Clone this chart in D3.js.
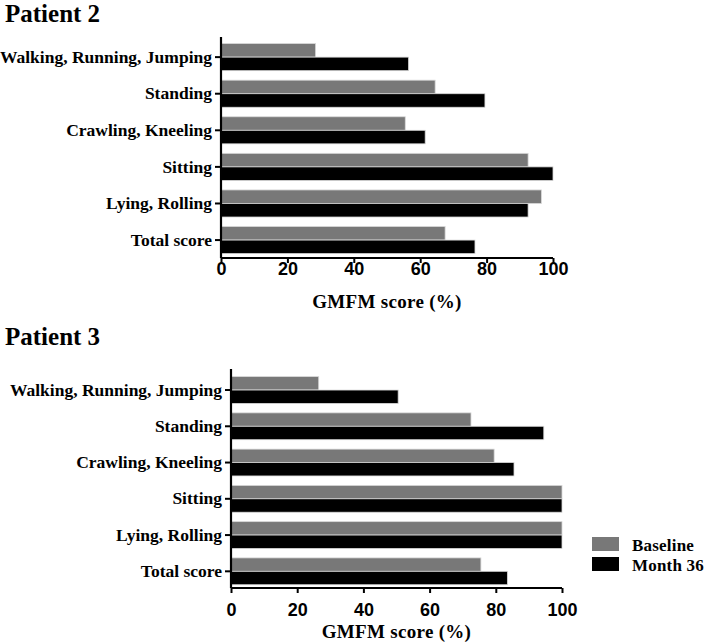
<!DOCTYPE html>
<html>
<head>
<meta charset="utf-8">
<script src="https://cdn.jsdelivr.net/npm/d3@7"></script>
<style>
  html, body { margin: 0; padding: 0; background: #fff; }
  svg { display: block; }
</style>
</head>
<body>
<svg id="chart" width="709" height="644"></svg>
<script>
const categories = ["Walking, Running, Jumping", "Standing", "Crawling, Kneeling", "Sitting", "Lying, Rolling", "Total score"];
const seriesNames = ["Baseline", "Month 36"];
const patient2Baseline = [28.5, 64.5, 55.5, 92.5, 96.5, 67.5];
const patient2Month36 = [56.5, 79.5, 61.5, 100, 92.5, 76.5];
const patient3Baseline = [26.5, 72.5, 79.5, 100, 100, 75.5];
const patient3Month36 = [50.5, 94.5, 85.5, 100, 100, 83.5];
const xTicks = [0, 20, 40, 60, 80, 100];
const panelTitles = ["Patient 2", "Patient 3"];
const axisTitle = "GMFM score (%)";

const colors = ["#787878", "#000000"];
const serif = "'Liberation Serif', 'Times New Roman', serif";
const sans = "'Liberation Sans', Arial, sans-serif";

const svg = d3.select("#chart");

const panels = [
  { title: panelTitles[0], base: patient2Baseline, m36: patient2Month36,
    x0: 221, x1: 553, y0: 37, y1: 258, align: 0.6, titleY: 22, tickY: 275, axisTitleY: 308 },
  { title: panelTitles[1], base: patient3Baseline, m36: patient3Month36,
    x0: 231, x1: 562, y0: 369, y1: 588, align: 0.7, titleY: 345, tickY: 616, axisTitleY: 638 }
];

panels.forEach(p => {
  const g = svg.append("g");
  const x = d3.scaleLinear().domain([0, 100]).range([p.x0, p.x1]);
  const y = d3.scaleBand().domain(categories).range([p.y0, p.y1])
    .paddingInner(0.26).paddingOuter(0.15).align(p.align);
  const ySub = d3.scaleBand().domain(seriesNames).range([0, y.bandwidth()]);

  g.append("text").attr("x", 5).attr("y", p.titleY)
    .attr("font-family", serif).attr("font-weight", "bold").attr("font-size", 25)
    .text(p.title);

  const rows = categories.map((c, i) => ({ c, vals: [p.base[i], p.m36[i]] }));
  const grp = g.selectAll("g.row").data(rows).join("g")
    .attr("transform", d => `translate(0,${y(d.c)})`);
  grp.selectAll("rect").data(d => d.vals.map((v, k) => ({ v, k })))
    .join("rect")
    .attr("x", x(0))
    .attr("y", d => ySub(seriesNames[d.k]))
    .attr("width", d => x(d.v) - x(0))
    .attr("height", ySub.bandwidth())
    .attr("fill", d => colors[d.k])
    .attr("stroke", "#d8d8d8").attr("stroke-width", 0.8);

  const yAxis = d3.axisLeft(y).tickSize(6).tickPadding(3);
  const ya = g.append("g").attr("transform", `translate(${p.x0},0)`).call(yAxis);
  ya.select(".domain").attr("d", `M0,${p.y0}V${p.y1}`).attr("stroke-width", 2.2);
  ya.selectAll(".tick line").attr("stroke-width", 2);
  ya.selectAll(".tick text")
    .attr("font-family", serif).attr("font-weight", "bold").attr("font-size", 17.5)
    .attr("fill", "#000");

  const xAxis = d3.axisBottom(x).tickValues(xTicks).tickSize(5).tickPadding(3);
  const xa = g.append("g").attr("transform", `translate(0,${p.y1})`).call(xAxis);
  xa.select(".domain").attr("d", `M${p.x0},0H${p.x1}`).attr("stroke-width", 2.2);
  xa.selectAll(".tick line").attr("stroke-width", 2);
  xa.selectAll(".tick text").attr("dy", null).attr("y", p.tickY - p.y1)
    .attr("font-family", sans).attr("font-weight", "bold").attr("font-size", 18)
    .attr("fill", "#000");

  g.append("text").attr("x", (p.x0 + p.x1) / 2).attr("y", p.axisTitleY)
    .attr("text-anchor", "middle")
    .attr("font-family", serif).attr("font-weight", "bold").attr("font-size", 19)
    .attr("letter-spacing", 0.3)
    .text(axisTitle);
});

// legend
const legend = svg.append("g");
seriesNames.forEach((name, k) => {
  legend.append("rect").attr("x", 592).attr("y", 537 + k * 20)
    .attr("width", 27).attr("height", 14).attr("fill", colors[k]);
  legend.append("text").attr("x", 632).attr("y", 550.5 + k * 20)
    .attr("font-family", serif).attr("font-weight", "bold").attr("font-size", 17)
    .attr("letter-spacing", 0.2)
    .text(name);
});
</script>
</body>
</html>
